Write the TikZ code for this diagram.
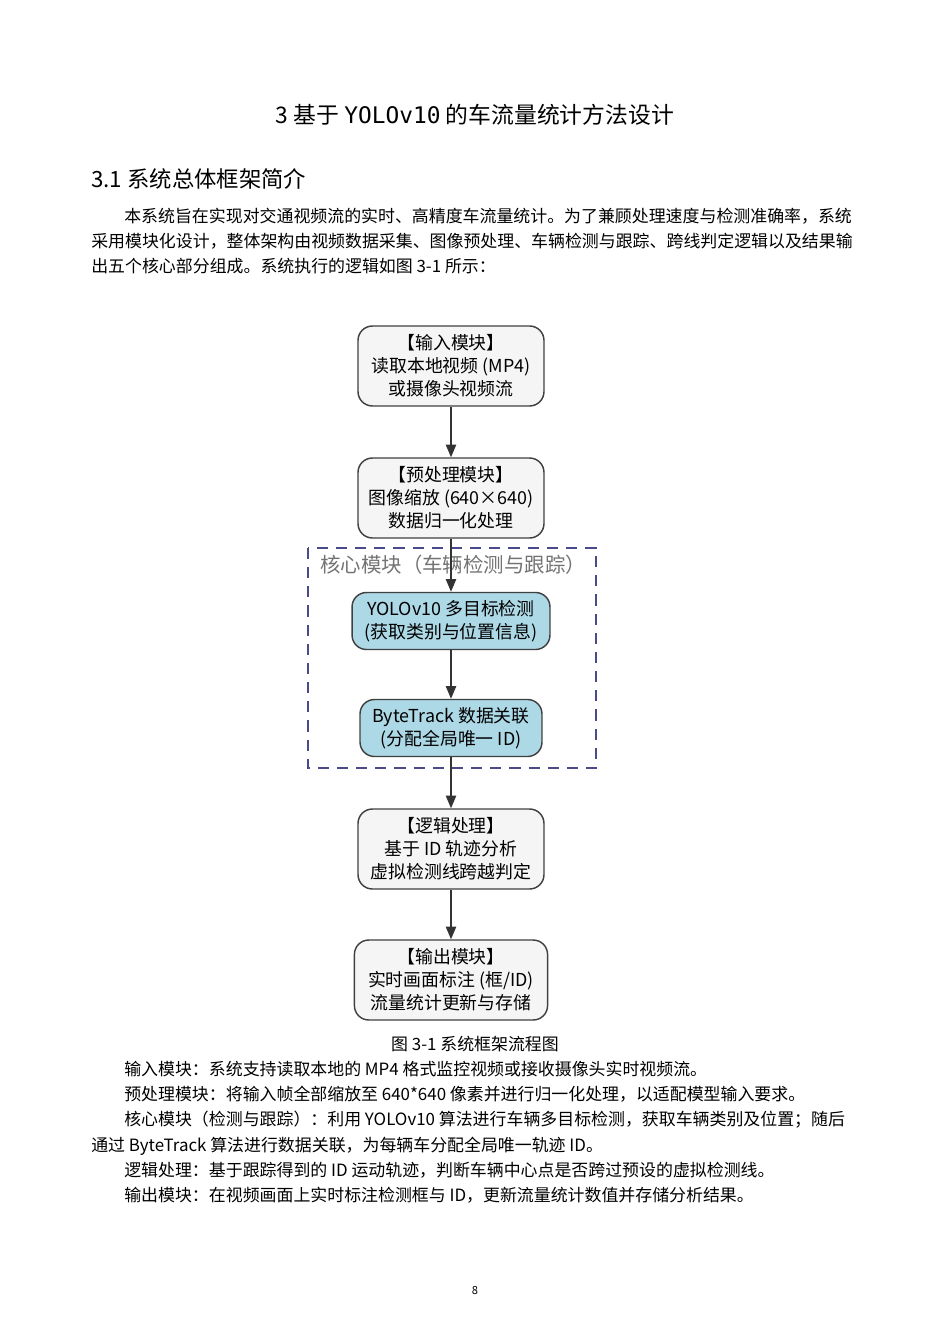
\documentclass[tikz,border=0pt]{standalone}
\usepackage{fontspec}
\setmainfont{Liberation Serif}
\newfontfamily\cjk{Noto Sans CJK SC}
\newfontfamily\monof{DejaVu Sans Mono}
\usetikzlibrary{arrows.meta}
\definecolor{boxgray}{HTML}{F5F5F5}
\definecolor{boxblue}{HTML}{ADD8E6}
\definecolor{dashc}{HTML}{4A4A8A}
\begin{document}
\begin{tikzpicture}[x=0.6265pt,y=-0.6265pt,
  box/.style={draw=black!75,line width=0.9pt,rounded corners=9pt,fill=boxgray,align=center,font=\cjk\fontsize{11.2}{14.4}\selectfont,inner sep=0pt},
  bl/.style={box,fill=boxblue},
  arr/.style={-{Triangle[length=8pt,width=6.5pt]},line width=0.9pt,black!80},
  txt/.style={anchor=base west,inner sep=0pt,font=\cjk\fontsize{10.6}{12}\selectfont}]
\useasboundingbox (0,0) rectangle (950,1344);
\node[inner sep=0pt,anchor=base,font=\cjk\fontsize{14.3}{17}\selectfont] (title) at (475,124) {3 基于 {\monof YOLOv10} 的车流量统计方法设计};
\node[inner sep=0pt,anchor=base west,font=\cjk\fontsize{14}{17}\selectfont] (sec) at (91,188) {3.1 系统总体框架简介};
\node[txt] (p1) at (124,223) {本系统旨在实现对交通视频流的实时、高精度车流量统计。为了兼顾处理速度与检测准确率，系统};
\node[txt] (p2) at (91,248) {采用模块化设计，整体架构由视频数据采集、图像预处理、车辆检测与跟踪、跨线判定逻辑以及结果输};
\node[txt] (p3) at (91,273) {出五个核心部分组成。系统执行的逻辑如图 3-1 所示：};

\draw[dashc,line width=0.9pt,dash pattern=on 7pt off 5pt] (308,548) rectangle (596,768);
\node[inner sep=0pt,anchor=base west,text=black!55,font=\cjk\fontsize{12.8}{15}\selectfont] (lab) at (320,572) {核心模块（车辆检测与跟踪）};

\node[box,minimum width=116.5pt,minimum height=50.1pt] (b1) at (451,366) {【输入模块】\\读取本地视频 (MP4)\\或摄像头视频流};
\node[box,minimum width=116.5pt,minimum height=50.1pt] (b2) at (451,498) {【预处理模块】\\图像缩放 (640×640)\\数据归一化处理};
\node[bl,minimum width=124pt,minimum height=35.7pt] (b3) at (451,621) {YOLOv10 多目标检测\\(获取类别与位置信息)};
\node[bl,minimum width=114pt,minimum height=35.7pt] (b4) at (451,728) {ByteTrack 数据关联\\(分配全局唯一 ID)};
\node[box,minimum width=116.5pt,minimum height=50.1pt] (b5) at (451,849) {【逻辑处理】\\基于 ID 轨迹分析\\虚拟检测线跨越判定};
\node[box,minimum width=121pt,minimum height=50.1pt] (b6) at (451,980) {【输出模块】\\实时画面标注 (框/ID)\\流量统计更新与存储};
\draw[arr] (b1) -- (b2);
\draw[arr] (b2) -- (b3);
\draw[arr] (b3) -- (b4);
\draw[arr] (b4) -- (b5);
\draw[arr] (b5) -- (b6);

\node[inner sep=0pt,anchor=base,font=\cjk\fontsize{10.6}{12}\selectfont] (cap) at (475,1050) {图 3-1 系统框架流程图};
\node[txt] (l1) at (124,1075) {输入模块：系统支持读取本地的 MP4 格式监控视频或接收摄像头实时视频流。};
\node[txt] (l2) at (124,1100) {预处理模块：将输入帧全部缩放至 640*640 像素并进行归一化处理，以适配模型输入要求。};
\node[txt] (l3) at (124,1125) {核心模块（检测与跟踪）：利用 YOLOv10 算法进行车辆多目标检测，获取车辆类别及位置；随后};
\node[txt] (l4) at (91,1151) {通过 ByteTrack 算法进行数据关联，为每辆车分配全局唯一轨迹 ID。};
\node[txt] (l5) at (124,1176) {逻辑处理：基于跟踪得到的 ID 运动轨迹，判断车辆中心点是否跨过预设的虚拟检测线。};
\node[txt] (l6) at (124,1201) {输出模块：在视频画面上实时标注检测框与 ID，更新流量统计数值并存储分析结果。};
\node[inner sep=0pt,anchor=base,font=\cjk\fontsize{7}{8}\selectfont] (pg) at (475,1294) {8};
\end{tikzpicture}
\end{document}
